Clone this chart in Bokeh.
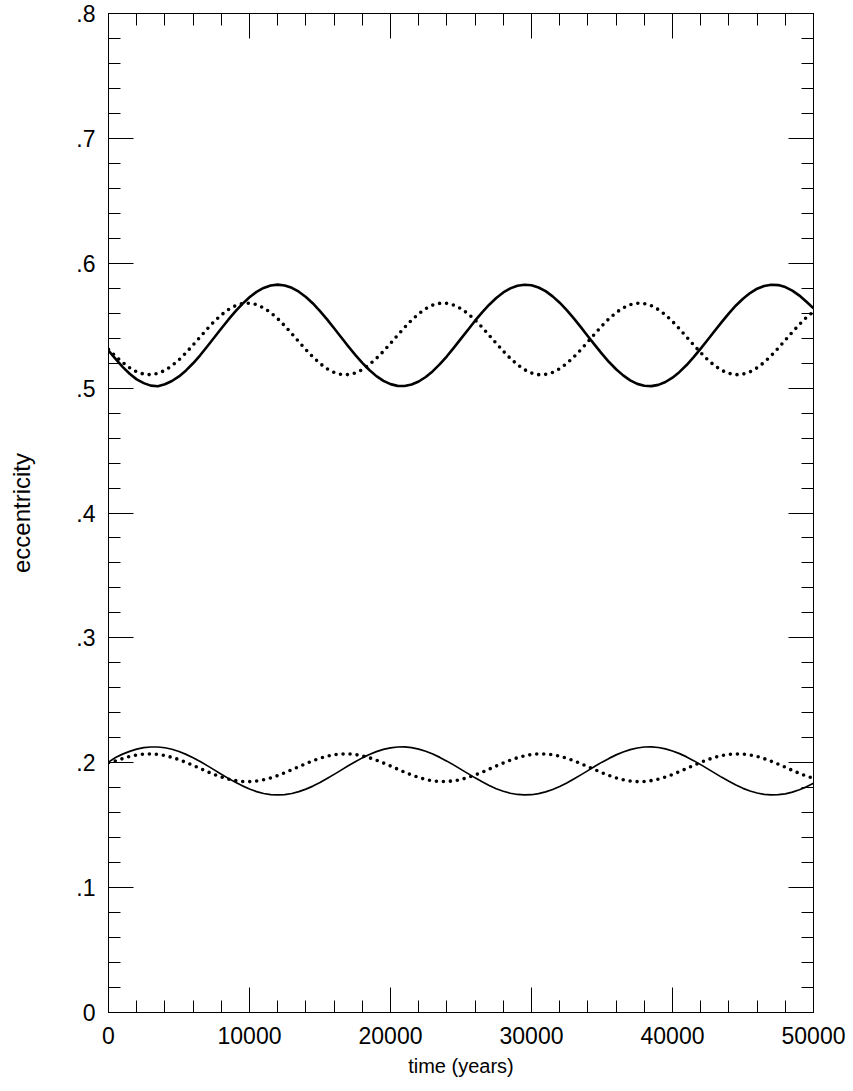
from bokeh.plotting import figure
from bokeh.models import FixedTicker, Range1d, LinearAxis
from bokeh.embed import file_html
from bokeh.resources import INLINE

# sample times (years), every 500 years
years = list(range(0, 50001, 500))

# upper pair (solid / dotted); each row covers 5000 years
ecc_upper_solid = [
    0.530, 0.5235, 0.517, 0.5115, 0.507, 0.5040, 0.502, 0.5015, 0.5031, 0.5057,
    0.5094, 0.5142, 0.5199, 0.5263, 0.5333, 0.5405, 0.5477, 0.5548, 0.5615, 0.5675,
    0.5728, 0.5771, 0.5802, 0.5822, 0.5829, 0.5822, 0.5803, 0.5772, 0.5730, 0.5678,
    0.5617, 0.5551, 0.5480, 0.5407, 0.5335, 0.5266, 0.5202, 0.5145, 0.5096, 0.5058,
    0.5032, 0.5018, 0.5017, 0.5029, 0.5053, 0.5089, 0.5136, 0.5192, 0.5255, 0.5324,
    0.5396, 0.5468, 0.5540, 0.5607, 0.5668, 0.5722, 0.5766, 0.5799, 0.5820, 0.5828,
    0.5824, 0.5806, 0.5777, 0.5735, 0.5684, 0.5625, 0.5559, 0.5489, 0.5416, 0.5344,
    0.5274, 0.5209, 0.5151, 0.5102, 0.5062, 0.5034, 0.5019, 0.5016, 0.5026, 0.5049,
    0.5084, 0.5130, 0.5185, 0.5248, 0.5316, 0.5387, 0.5460, 0.5531, 0.5599, 0.5662,
    0.5716, 0.5761, 0.5796, 0.5818, 0.5828, 0.5825, 0.5809, 0.5781, 0.5741, 0.5691,
    0.5640]
ecc_upper_dotted = [
    0.531, 0.5255, 0.5206, 0.5163, 0.5130, 0.5112, 0.5107, 0.5118, 0.5142, 0.5179,
    0.5227, 0.5283, 0.5346, 0.5410, 0.5474, 0.5534, 0.5586, 0.5629, 0.5660, 0.5677,
    0.5680, 0.5669, 0.5643, 0.5605, 0.5556, 0.5499, 0.5436, 0.5371, 0.5308, 0.5249,
    0.5197, 0.5155, 0.5126, 0.5110, 0.5108, 0.5121, 0.5148, 0.5188, 0.5238, 0.5295,
    0.5358, 0.5423, 0.5486, 0.5545, 0.5596, 0.5636, 0.5665, 0.5679, 0.5679, 0.5665,
    0.5636, 0.5596, 0.5545, 0.5487, 0.5423, 0.5359, 0.5296, 0.5238, 0.5188, 0.5148,
    0.5121, 0.5108, 0.5110, 0.5126, 0.5155, 0.5197, 0.5249, 0.5308, 0.5371, 0.5436,
    0.5499, 0.5556, 0.5605, 0.5643, 0.5669, 0.5680, 0.5677, 0.5660, 0.5629, 0.5587,
    0.5534, 0.5474, 0.5410, 0.5346, 0.5284, 0.5227, 0.5179, 0.5142, 0.5118, 0.5107,
    0.5112, 0.5130, 0.5163, 0.5206, 0.5260, 0.5320, 0.5384, 0.5448, 0.5510, 0.5566,
    0.5613]

# lower pair (solid / dotted)
ecc_lower_solid = [
    0.2005, 0.2042, 0.2069, 0.2091, 0.2109, 0.2121, 0.2126, 0.2126, 0.2120, 0.2108,
    0.2090, 0.2067, 0.2040, 0.2010, 0.1977, 0.1943, 0.1908, 0.1875, 0.1843, 0.1815,
    0.1790, 0.1769, 0.1754, 0.1745, 0.1742, 0.1745, 0.1754, 0.1769, 0.1789, 0.1813,
    0.1842, 0.1874, 0.1907, 0.1941, 0.1976, 0.2008, 0.2039, 0.2066, 0.2089, 0.2107,
    0.2119, 0.2126, 0.2127, 0.2121, 0.2109, 0.2092, 0.2070, 0.2043, 0.2013, 0.1981,
    0.1947, 0.1913, 0.1879, 0.1847, 0.1818, 0.1792, 0.1772, 0.1756, 0.1746, 0.1742,
    0.1744, 0.1753, 0.1767, 0.1786, 0.1810, 0.1838, 0.1870, 0.1903, 0.1937, 0.1972,
    0.2005, 0.2035, 0.2063, 0.2086, 0.2105, 0.2118, 0.2126, 0.2127, 0.2122, 0.2111,
    0.2094, 0.2073, 0.2047, 0.2017, 0.1985, 0.1951, 0.1917, 0.1883, 0.1851, 0.1821,
    0.1795, 0.1774, 0.1758, 0.1747, 0.1742, 0.1744, 0.1751, 0.1765, 0.1784, 0.1807,
    0.1835]
ecc_lower_dotted = [
    0.2000, 0.2015, 0.2033, 0.2050, 0.2062, 0.2069, 0.2071, 0.2067, 0.2058, 0.2043,
    0.2025, 0.2003, 0.1979, 0.1954, 0.1929, 0.1906, 0.1886, 0.1869, 0.1857, 0.1850,
    0.1849, 0.1854, 0.1864, 0.1878, 0.1897, 0.1920, 0.1944, 0.1969, 0.1993, 0.2016,
    0.2036, 0.2052, 0.2064, 0.2070, 0.2071, 0.2066, 0.2055, 0.2040, 0.2021, 0.1998,
    0.1974, 0.1949, 0.1924, 0.1902, 0.1882, 0.1866, 0.1855, 0.1850, 0.1850, 0.1855,
    0.1866, 0.1882, 0.1902, 0.1924, 0.1949, 0.1974, 0.1998, 0.2021, 0.2040, 0.2055,
    0.2066, 0.2071, 0.2070, 0.2064, 0.2052, 0.2036, 0.2016, 0.1993, 0.1969, 0.1944,
    0.1920, 0.1898, 0.1879, 0.1864, 0.1854, 0.1849, 0.1850, 0.1857, 0.1869, 0.1886,
    0.1906, 0.1929, 0.1954, 0.1979, 0.2003, 0.2025, 0.2043, 0.2058, 0.2067, 0.2071,
    0.2069, 0.2062, 0.2050, 0.2033, 0.2012, 0.1989, 0.1964, 0.1939, 0.1915, 0.1893,
    0.1875]

x_major_ticks = [0, 10000, 20000, 30000, 40000, 50000]
x_minor_ticks = [0, 2000, 4000, 6000, 8000, 10000, 12000, 14000, 16000, 18000, 20000,
                 22000, 24000, 26000, 28000, 30000, 32000, 34000, 36000, 38000, 40000,
                 42000, 44000, 46000, 48000, 50000]
y_major_ticks = [0, 0.1, 0.2, 0.3, 0.4, 0.5, 0.6, 0.7, 0.8]
y_tick_labels = ["0", ".1", ".2", ".3", ".4", ".5", ".6", ".7", ".8"]
y_minor_ticks = [i / 50 for i in range(0, 41)]

FONT = "Liberation Sans"

p = figure(width=850, height=1088,
           x_range=Range1d(0, 50000), y_range=Range1d(0, 0.8),
           output_backend="svg", toolbar_location=None,
           min_border_left=108, min_border_right=37,
           min_border_top=13, min_border_bottom=76,
           x_axis_location=None, y_axis_location=None)
p.grid.visible = False
p.outline_line_color = "black"
p.outline_line_width = 1
p.background_fill_color = "white"
p.border_fill_color = "white"


def make_axis(ticks, minor, label, label_size, show_labels, overrides=None):
    ax = LinearAxis(ticker=FixedTicker(ticks=ticks, minor_ticks=minor))
    ax.axis_line_color = "black"
    ax.major_tick_line_color = "black"
    ax.minor_tick_line_color = "black"
    ax.major_tick_in = 25
    ax.major_tick_out = 0
    ax.minor_tick_in = 12
    ax.minor_tick_out = 0
    if show_labels:
        ax.major_label_text_font = FONT
        ax.major_label_text_font_size = "23px"
        ax.major_label_text_color = "black"
        if overrides:
            ax.major_label_overrides = overrides
    else:
        ax.major_label_text_font_size = "1px"
        ax.major_label_text_color = None
        ax.major_label_standoff = 0
    if label:
        ax.axis_label = label
        ax.axis_label_text_font = FONT
        ax.axis_label_text_font_size = label_size
        ax.axis_label_text_font_style = "normal"
        ax.axis_label_text_color = "black"
    return ax


xb = make_axis(x_major_ticks, x_minor_ticks, "time (years)", "20px", True)
xb.major_label_standoff = 14
xb.axis_label_standoff = 8
p.add_layout(xb, "below")

xt = make_axis(x_major_ticks, x_minor_ticks, None, None, False)
p.add_layout(xt, "above")

overrides = {}
for t, s in zip(y_major_ticks, y_tick_labels):
    overrides[t] = s
yl = make_axis(y_major_ticks, y_minor_ticks, "eccentricity", "24px", True, overrides)
yl.major_label_standoff = 13
yl.axis_label_standoff = 38
p.add_layout(yl, "left")

yr = make_axis(y_major_ticks, y_minor_ticks, None, None, False)
p.add_layout(yr, "right")

p.line(years, ecc_upper_solid, line_color="black", line_width=2.6, line_join="round")
p.line(years, ecc_upper_dotted, line_color="black", line_width=3.6,
       line_dash="0 7", line_cap="round")
p.line(years, ecc_lower_solid, line_color="black", line_width=1.7, line_join="round")
p.line(years, ecc_lower_dotted, line_color="black", line_width=3.6,
       line_dash="0 7", line_cap="round")

open("out.html", "w").write(file_html(p, INLINE))
